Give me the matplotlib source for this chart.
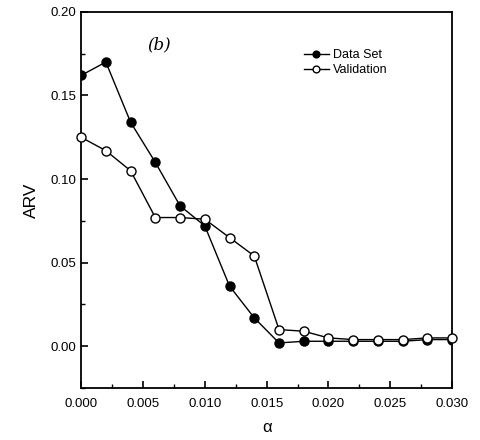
import matplotlib
matplotlib.use("Agg")
import matplotlib.pyplot as plt
from matplotlib.ticker import MultipleLocator, FormatStrFormatter

alpha = [0.000, 0.002, 0.004, 0.006, 0.008, 0.010, 0.012, 0.014, 0.016, 0.018,
         0.020, 0.022, 0.024, 0.026, 0.028, 0.030]
data_set = [0.162, 0.170, 0.134, 0.110, 0.084, 0.072, 0.036, 0.017, 0.002, 0.003,
            0.003, 0.003, 0.003, 0.003, 0.004, 0.004]
validation = [0.125, 0.117, 0.105, 0.077, 0.077, 0.076, 0.065, 0.054, 0.010, 0.009,
              0.005, 0.004, 0.004, 0.004, 0.005, 0.005]

plt.rcParams['font.family'] = ['Liberation Sans', 'DejaVu Sans']

fig = plt.figure(figsize=(4.8, 4.4), dpi=100)
ax = fig.add_axes([0.169, 0.118, 0.773, 0.855])

ax.plot(alpha, data_set, '-o', color='black', lw=1.0, ms=6.5,
        markerfacecolor='black', label='Data Set')
ax.plot(alpha, validation, '-o', color='black', lw=1.0, ms=6.5,
        markerfacecolor='white', label='Validation', clip_on=False, zorder=3)

ax.set_xlim(0.0, 0.030)
ax.set_ylim(-0.025, 0.20)
ax.xaxis.set_major_locator(MultipleLocator(0.005))
ax.xaxis.set_minor_locator(MultipleLocator(0.0025))
ax.yaxis.set_major_locator(MultipleLocator(0.05))
ax.yaxis.set_minor_locator(MultipleLocator(0.025))
ax.xaxis.set_major_formatter(FormatStrFormatter('%.3f'))
ax.yaxis.set_major_formatter(FormatStrFormatter('%.2f'))
ax.tick_params(which='both', direction='in', top=False, right=False, labelsize=9.5)
ax.tick_params(which='major', length=5, width=1.2)
ax.tick_params(which='minor', length=3, width=1.0)
ax.tick_params(axis='x', pad=7)
for s in ax.spines.values():
    s.set_linewidth(1.3)

ax.set_ylabel('ARV', fontsize=12.5, labelpad=8)
ax.set_xlabel('α', fontsize=12, labelpad=7)

ax.text(0.0063, 0.180, '(b)', fontsize=12, style='italic', family='DejaVu Serif',
        ha='center', va='center')

leg = ax.legend(loc='upper left', bbox_to_anchor=(0.57, 0.93), frameon=False,
                fontsize=9, handlelength=2.0, handletextpad=0.3, labelspacing=0.2,
                numpoints=1, markerscale=0.75)

fig.savefig('out.png', dpi=100)
